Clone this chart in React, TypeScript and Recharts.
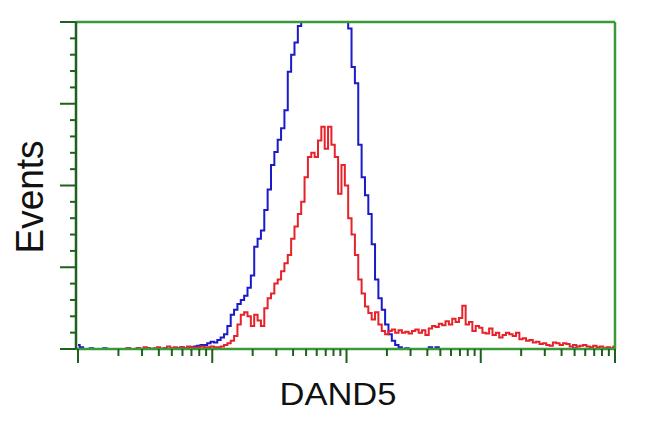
import { LineChart, Line, XAxis, YAxis } from 'recharts';

// histogram counts per channel (40 channels per log decade, 4 decades)
const blueCounts = [
  5, 2, 0, 0, 1, 0, 0, 0, 1, 0,
  0, 0, 0, 0, 0, 1, 0, 0, 1, 0,
  0, 1, 0, 0, 1, 0, 1, 0, 0, 1,
  1, 2, 1, 1, 2, 3, 4, 5, 5, 7,
  9, 8, 11, 14, 18, 28, 42, 48, 55, 60,
  65, 75, 90, 125, 135, 145, 170, 195, 225, 241,
  256, 270, 292, 339, 360, 375, 395, 420, 440, 460,
  470, 480, 475, 470, 480, 470, 460, 450, 440, 420,
  402, 392, 345, 325, 250, 210, 188, 165, 128, 85,
  62, 48, 30, 18, 10, 5, 2, 0, 1, 0,
  0, 0, 0, 0, 0, 2, 0, 2, 0, 0,
  0, 0, 0, 0, 0, 0, 0, 0, 0, 0,
  0, 0, 0, 0, 0, 0, 0, 0, 0, 0,
  0, 0, 0, 0, 0, 0, 0, 0, 0, 0,
  0, 0, 0, 0, 0, 0, 0, 0, 1, 0,
  0, 0, 0, 0, 0, 0, 0, 0, 0, 0,
  1,
];

const redCounts = [
  0, 0, 0, 0, 0, 0, 0, 0, 0, 0,
  0, 0, 0, 0, 0, 1, 0, 0, 1, 0,
  2, 1, 0, 1, 2, 0, 1, 3, 1, 2,
  0, 2, 1, 3, 2, 1, 2, 3, 2, 2,
  3, 2, 2, 3, 5, 7, 10, 16, 30, 42,
  45, 40, 28, 42, 35, 28, 50, 62, 68, 80,
  85, 95, 105, 115, 135, 150, 165, 180, 210, 235,
  240, 235, 255, 272, 245, 272, 250, 235, 190, 225,
  200, 160, 140, 115, 85, 68, 52, 44, 36, 45,
  30, 22, 18, 22, 24, 20, 23, 20, 21, 19,
  22, 24, 20, 23, 17, 25, 28, 27, 31, 29,
  34, 30, 37, 33, 38, 53, 30, 33, 22, 28,
  26, 20, 19, 25, 17, 20, 14, 17, 20, 18,
  16, 20, 12, 13, 10, 11, 8, 9, 6, 7,
  5, 4, 8, 7, 5, 7, 6, 3, 5, 3,
  4, 5, 3, 2, 4, 2, 3, 1, 2, 1,
  3,
];

const CH_PER_DECADE = 40;
const decades = [0, 1, 2, 3];
const multipliers = [1, 2, 3, 4, 5, 6, 7, 8, 9];
const xTicks = decades
  .flatMap((d) => multipliers.map((k) => CH_PER_DECADE * (d + Math.log10(k))))
  .concat(CH_PER_DECADE * 4);
const yTicks = [
  0, 20, 40, 60, 80, 100, 120, 140, 160, 180, 200,
  220, 240, 260, 280, 300, 320, 340, 360, 380, 400,
];

const data = blueCounts.map((b, i) => ({ ch: i, blue: b, red: redCounts[i] }));

const FRAME = '#3a9a3a';
const TICK = '#1f5f1f';

function isMajor(v: number, step: number) {
  return Math.abs(v / step - Math.round(v / step)) < 1e-6;
}

function XTick({ x, y, payload }: any) {
  const len = isMajor(payload.value, CH_PER_DECADE) ? 14 : 7;
  return <line x1={x} y1={y} x2={x} y2={y + len} stroke={TICK} strokeWidth={2} />;
}

function YTick({ x, y, payload }: any) {
  const len = isMajor(payload.value, 100) ? 16 : 6;
  return <line x1={x} y1={y} x2={x - len} y2={y} stroke={TICK} strokeWidth={2} />;
}

export default function App() {
  return (
    <div style={{ position: 'absolute', left: 0, top: 0, width: 650, height: 432, background: '#fff' }}>
      <LineChart
        width={650}
        height={432}
        data={data}
        margin={{ top: 12, right: 25, bottom: 53, left: 46 }}
      >
        <XAxis
          dataKey='ch'
          type='number'
          domain={[-0.6, 160]}
          ticks={xTicks}
          interval={0}
          height={30}
          tickSize={0}
          tickMargin={0}
          tickLine={false}
          tick={<XTick />}
          axisLine={{ stroke: FRAME, strokeWidth: 2.5 }}
        />
        <XAxis
          xAxisId='top'
          orientation='top'
          dataKey='ch'
          type='number'
          domain={[-0.6, 160]}
          height={10}
          tick={false}
          tickLine={false}
          axisLine={{ stroke: FRAME, strokeWidth: 2.5 }}
        />
        <YAxis
          type='number'
          domain={[0, 400]}
          allowDataOverflow
          ticks={yTicks}
          interval={0}
          width={30}
          tickSize={0}
          tickMargin={0}
          tickLine={false}
          tick={<YTick />}
          axisLine={{ stroke: TICK, strokeWidth: 2.5 }}
        />
        <YAxis
          yAxisId='right'
          orientation='right'
          type='number'
          domain={[0, 400]}
          width={10}
          tick={false}
          tickLine={false}
          axisLine={{ stroke: FRAME, strokeWidth: 2.5 }}
        />
        <Line
          dataKey='blue'
          type='step'
          stroke='#1a1ac8'
          strokeWidth={2}
          dot={false}
          isAnimationActive={false}
        />
        <Line
          dataKey='red'
          type='step'
          stroke='#e6222a'
          strokeWidth={2}
          dot={false}
          isAnimationActive={false}
        />
      </LineChart>
      <svg
        width={650}
        height={432}
        style={{ position: 'absolute', left: 0, top: 0, pointerEvents: 'none' }}
      >
        <text
          x={0}
          y={0}
          transform='translate(43,197) rotate(-90)'
          textAnchor='middle'
          fontFamily='Liberation Sans, Arial, sans-serif'
          fontSize={38}
          textLength={113}
          lengthAdjust='spacingAndGlyphs'
          fill='#111'
        >
          Events
        </text>
        <text
          x={338}
          y={405}
          textAnchor='middle'
          fontFamily='Liberation Sans, Arial, sans-serif'
          fontSize={31}
          textLength={117}
          lengthAdjust='spacingAndGlyphs'
          fill='#111'
        >
          DAND5
        </text>
      </svg>
    </div>
  );
}
